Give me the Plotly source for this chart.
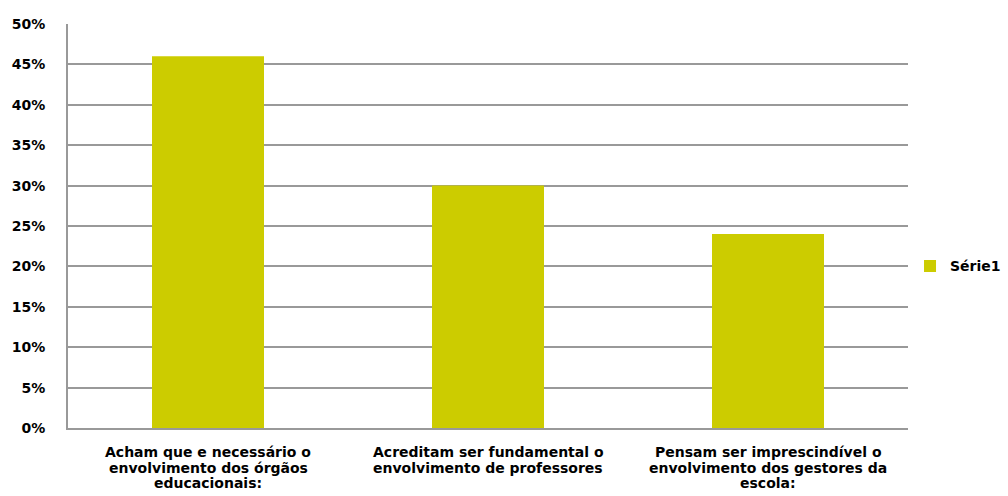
import plotly.graph_objects as go

categories = [
    "Acham que e necessário o envolvimento dos órgãos educacionais:",
    "Acreditam ser fundamental o envolvimento de professores",
    "Pensam ser imprescindível o envolvimento dos gestores da escola:",
]
category_lines = [
    ["Acham que e necessário o", "envolvimento dos órgãos", "educacionais:"],
    ["Acreditam ser fundamental o", "envolvimento de professores"],
    ["Pensam ser imprescindível o", "envolvimento dos gestores da", "escola:"],
]
serie1 = [0.46, 0.30, 0.24]
tick_vals = [0, 0.05, 0.10, 0.15, 0.20, 0.25, 0.30, 0.35, 0.40, 0.45, 0.50]
tick_text = ["0%", "5%", "10%", "15%", "20%", "25%", "30%", "35%", "40%", "45%", "50%"]

FONT = dict(family="DejaVu Sans, Arial, sans-serif", size=14, color="black", weight=700)
GRID = "#999999"

fig = go.Figure()
fig.add_trace(go.Bar(
    x=categories,
    y=serie1,
    name="Série1",
    marker=dict(color="#CCCC00", line=dict(width=0)),
    width=0.4,
    showlegend=True,
))

# multi-line category labels, one annotation per line for tight line spacing
for cat, lines in zip(categories, category_lines):
    for i, line in enumerate(lines):
        fig.add_annotation(
            x=cat, xref="x", y=0, yref="paper",
            text=line, showarrow=False,
            xanchor="center", yanchor="top",
            yshift=-14 - 15.5 * i,
            font=FONT,
        )

fig.update_layout(
    width=1008,
    height=496,
    margin=dict(l=68, r=100, t=24, b=68, autoexpand=False),
    paper_bgcolor="white",
    plot_bgcolor="white",
    font=FONT,
    showlegend=True,
    legend=dict(
        x=1.0024, y=0.40, xanchor="left", yanchor="middle",
        font=FONT,
        itemwidth=30,
        bgcolor="rgba(0,0,0,0)",
    ),
)
fig.update_xaxes(
    showline=True, linecolor=GRID, linewidth=2,
    showgrid=False, ticks="", showticklabels=False,
)
fig.update_yaxes(
    range=[0, 0.5],
    tickvals=tick_vals, ticktext=tick_text,
    showgrid=True, gridcolor=GRID, gridwidth=2,
    showline=True, linecolor=GRID, linewidth=2,
    zeroline=False, ticks="", ticklabelstandoff=18,
    tickfont=FONT,
)

fig.write_html("out.html")
